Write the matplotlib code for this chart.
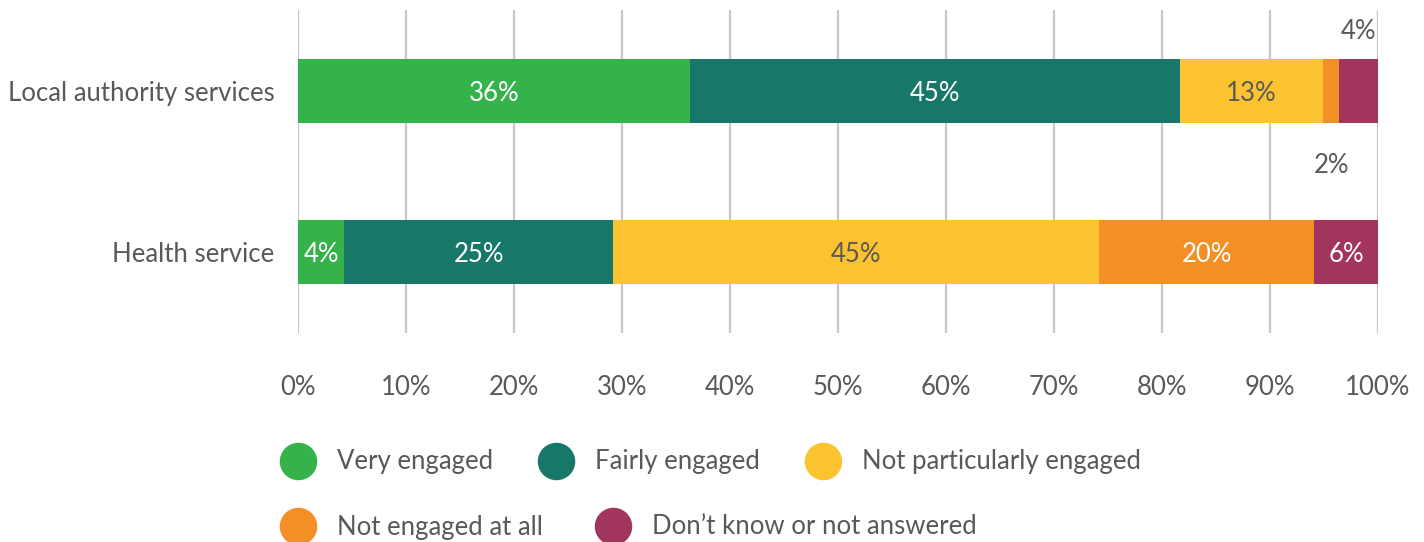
import numpy as np
import matplotlib
matplotlib.use("Agg")
import matplotlib.pyplot as plt
from matplotlib.lines import Line2D

plt.rcParams['font.family'] = ['Lato', 'DejaVu Sans']

categories = ["Health service", "Local authority services"]
series_names = ["Very engaged", "Fairly engaged", "Not particularly engaged",
                "Not engaged at all", "Don\u2019t know or not answered"]
health = [4.3, 24.9, 45.0, 19.9, 5.9]
local = [36.3, 45.4, 13.2, 1.5, 3.6]
health_labels = ["4%", "25%", "45%", "20%", "6%"]
local_labels = ["36%", "45%", "13%", "2%", "4%"]
colors = ["#35B24A", "#177769", "#FCC331", "#F39025", "#A2355D"]
label_colors = ["white", "white", "#595959", "white", "white"]
ticks = np.arange(0, 101, 10)

text_col = "#595959"
fs = 18.5

fig = plt.figure(figsize=(14.24, 5.42), dpi=100)
ax = fig.add_axes([298 / 1424, 1 - 333 / 542, 1080 / 1424, 323 / 542])

values = np.array([health, local])
labels = [health_labels, local_labels]
ypos = np.arange(len(categories))
bar_h = 0.394
left = np.zeros(len(categories))
for j in range(len(series_names)):
    ax.barh(ypos, values[:, j], left=left, height=bar_h, color=colors[j],
            zorder=3, linewidth=0)
    for i in range(len(categories)):
        cx = left[i] + values[i, j] / 2
        if values[i, j] >= 3.9 or (i == 0):
            ax.text(cx, ypos[i], labels[i][j], ha="center", va="center_baseline",
                    color=label_colors[j], fontsize=fs, zorder=4)
        elif j == 3:
            # small segment: label below the bar
            ax.text(cx, ypos[i] - 0.45, labels[i][j], ha="center", va="center_baseline",
                    color=text_col, fontsize=fs, zorder=4)
        else:
            # small segment: label above the bar
            ax.text(cx, ypos[i] + 0.38, labels[i][j], ha="center", va="center_baseline",
                    color=text_col, fontsize=fs, zorder=4)
    left = left + values[:, j]

ax.set_xlim(0, 100)
ax.set_ylim(-0.5, 1.5)
ax.set_xticks(ticks)
ax.set_xticklabels([f"{t}%" for t in ticks])
ax.set_yticks(ypos)
ax.set_yticklabels(categories)
ax.tick_params(axis="both", length=0, labelsize=fs, labelcolor=text_col)
ax.tick_params(axis="x", pad=30)
ax.tick_params(axis="y", pad=17)
ax.grid(axis="x", color="#C8C8C8", linewidth=1.6, zorder=0)
for s in ax.spines.values():
    s.set_visible(False)

handles = [Line2D([], [], marker="o", linestyle="none", markersize=27,
                  markerfacecolor=c, markeredgewidth=0) for c in colors]
leg_kw = dict(loc="center left", frameon=False, fontsize=fs, labelcolor=text_col,
              handlelength=1.2, handletextpad=0.92, borderpad=0)
fig.legend(handles[:3], series_names[:3], ncol=3, columnspacing=1.85,
           bbox_to_anchor=(270 / 1424, 1 - 462 / 542), **leg_kw)
fig.legend(handles[3:], series_names[3:], ncol=2, columnspacing=2.1,
           bbox_to_anchor=(270 / 1424, 1 - 527 / 542), **leg_kw)

fig.savefig("out.png", dpi=100)
